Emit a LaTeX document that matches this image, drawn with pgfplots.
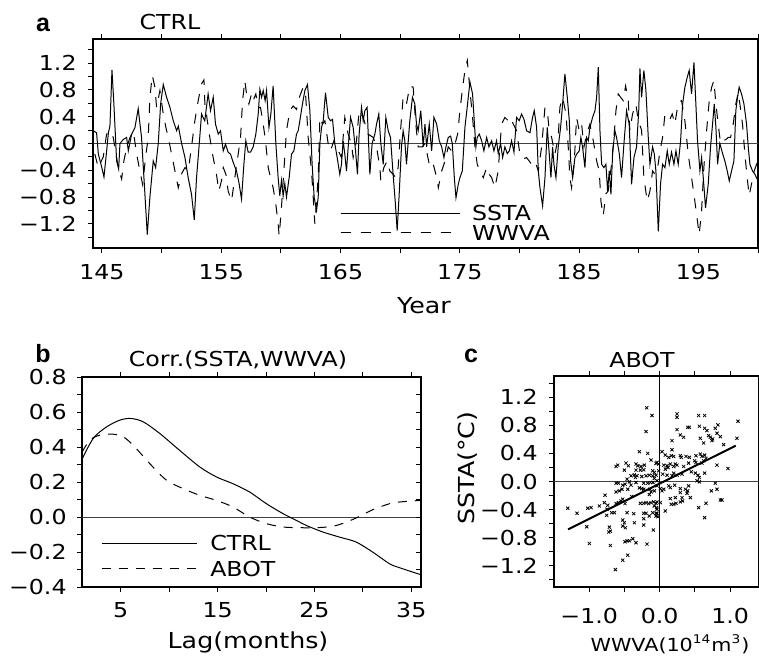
\documentclass[border=0pt]{standalone}
\usepackage{fontspec}
\setmainfont{DejaVu Sans}[FakeStretch=1.15]
\newfontfamily\labfont{Liberation Sans}
\usepackage{pgfplots}
\pgfplotsset{compat=1.18}
\pgfplotsset{
  gstyle/.style={scale only axis, axis line style={black, line width=0.6pt},
    tick style={black, line width=0.5pt}, tick align=outside,
    major tick length=2.5pt, minor tick length=2.5pt,
    /pgf/number format/assume math mode=true,
    tick label style={font=\fontsize{10.3}{12}\selectfont},
    xtick pos=both, ytick pos=left},
  solidl/.style={black, line width=0.5pt},
  dashl/.style={black, line width=0.5pt, dash pattern=on 5pt off 5pt},
}
\begin{document}
\begin{tikzpicture}
\useasboundingbox (0pt,0pt) rectangle (379.5pt,327.5pt);
% ---------------- panel a
\begin{axis}[gstyle, at={(46.5pt,203.5pt)}, anchor=south west, width=332.5pt, height=104.5pt,
  xmin=144.25, xmax=200, ymin=-1.56, ymax=1.56,
  xtick={145,155,165,175,185,195}, minor xtick={150,160,170,180,190,200},
  ytick={-1.2,-0.8,-0.4,0,0.4,0.8,1.2}, yticklabels={−1.2,−0.8,−0.4,0.0,0.4,0.8,1.2},
  minor ytick={-1.4,-1.0,-0.6,-0.2,0.2,0.6,1.0,1.4},
  xticklabel style={inner sep=0pt, anchor=north, yshift=-5.5pt},
  yticklabel style={inner sep=0pt, anchor=east, xshift=-5.5pt}]
\addplot[black!75, line width=0.5pt] coordinates {(144,0) (201,0)};
\addplot[solidl] table {
144.27 0.19
144.55 0.16
144.7 -0.16
144.99 -0.36
145.17 -0.50
145.4 -0.10
145.54 0.16
145.67 0.26
145.84 1.10
146.0 0.59
146.23 -0.26
146.4 -0.38
146.51 0.0
146.79 0.06
147.07 0.09
147.21 -0.11
147.49 0.14
147.77 0.24
148.04 0.52
148.32 0.09
148.55 -0.60
148.8 -1.36
149.02 -0.80
149.3 -0.26
149.5 -0.36
149.72 0.0
149.92 0.59
150.14 0.88
150.42 0.69
150.7 0.54
150.98 0.34
151.26 0.19
151.4 0.26
151.68 0.0
151.96 -0.21
152.23 -0.51
152.51 -0.76
152.74 -1.14
152.93 -0.51
153.16 0.0
153.35 0.44
153.45 0.40
153.62 0.34
153.9 0.74
154.1 0.49
154.33 0.69
154.52 0.29
154.75 0.14
154.94 0.19
155.17 -0.11
155.36 -0.01
155.58 -0.13
155.78 -0.16
156.0 -0.28
156.28 -0.41
156.5 -0.60
156.7 -0.83
156.9 -0.31
157.06 0.04
157.26 -0.13
157.46 -0.13
157.68 -0.05
157.9 0.14
158.1 0.44
158.24 0.81
158.38 0.69
158.52 0.79
158.68 0.64
158.8 0.79
159.0 0.24
159.16 0.44
159.35 0.86
159.58 0.0
159.77 -0.51
159.91 -0.78
160.05 -0.55
160.19 -0.78
160.33 -0.60
160.47 -0.80
160.7 -0.50
160.89 -0.16
161.09 -0.11
161.31 0.14
161.45 0.19
161.59 0.34
161.81 0.59
162.01 0.79
162.23 0.88
162.43 0.49
162.62 -0.31
162.79 -0.80
162.99 -1.0
163.13 -0.80
163.27 0.0
163.41 0.24
163.55 0.34
163.74 0.76
163.97 0.39
164.16 0.34
164.33 0.36
164.52 0.0
164.72 -0.21
164.94 -0.46
165.08 -0.31
165.22 0.04
165.36 -0.16
165.5 -0.41
165.64 -0.06
165.84 0.39
166.06 0.24
166.26 -0.11
166.42 -0.46
166.56 0.14
166.76 0.54
166.9 0.34
167.04 0.49
167.23 0.54
167.46 -0.46
167.65 0.0
167.88 0.14
168.02 0.29
168.21 0.44
168.38 0.0
168.58 -0.31
168.8 0.39
169.0 0.19
169.19 0.09
169.41 -0.46
169.6 -0.9
169.75 -1.30
169.92 -0.75
170.11 -0.05
170.25 0.19
170.39 0.04
170.53 -0.31
170.81 0.34
171.03 0.69
171.23 0.59
171.37 0.29
171.51 0.19
171.73 0.49
171.93 -0.05
172.08 0.29
172.22 -0.05
172.44 0.29
172.64 -0.11
172.83 0.39
173.06 0.29
173.28 0.04
173.48 -0.05
173.67 -0.21
173.84 -0.05
174.03 0.09
174.23 0.11
174.37 0.0
174.54 -0.51
174.68 -0.81
174.87 -0.61
175.01 -0.51
175.21 -0.41
175.43 0.24
175.65 0.59
175.85 0.92
176.07 0.74
176.21 0.34
176.35 -0.05
176.46 0.09
176.63 0.14
176.83 0.04
177.02 -0.11
177.25 0.09
177.44 -0.05
177.67 0.04
177.86 -0.11
178.08 0.04
178.22 -0.15
178.42 0.0
178.59 -0.21
178.78 -0.05
178.98 -0.15
179.15 -0.11
179.34 0.04
179.54 -0.13
179.76 0.39
179.98 0.34
180.18 0.44
180.38 0.36
180.6 0.19
180.88 0.16
181.1 0.39
181.24 0.49
181.44 0.24
181.58 -0.41
181.72 -0.66
181.94 -0.93
182.14 -0.51
182.33 0.24
182.5 -0.16
182.64 -0.51
182.78 -0.05
182.89 -0.31
183.06 -0.51
183.25 -0.05
183.45 0.24
183.62 0.59
183.81 1.04
184.01 0.69
184.18 0.34
184.29 -0.26
184.46 -0.51
184.65 -0.21
184.79 -0.16
185.01 -0.11
185.15 0.09
185.29 -0.05
185.49 -0.36
185.63 0.09
185.77 0.04
185.91 0.24
186.13 0.39
186.33 0.49
186.47 0.69
186.61 1.14
186.75 0.19
186.89 -0.31
187.08 -0.36
187.25 -0.31
187.39 -0.71
187.53 -0.41
187.67 -0.76
187.81 -0.15
188.0 0.19
188.14 0.09
188.37 -0.15
188.56 -0.51
188.76 0.0
188.98 0.49
189.2 0.29
189.4 -0.61
189.6 -0.21
189.82 -0.05
190.0 0.49
190.1 1.12
190.24 0.69
190.43 1.09
190.6 0.80
190.8 0.09
190.94 -0.31
191.16 -0.05
191.3 -0.15
191.44 -0.41
191.64 -1.31
191.83 -0.60
192.0 -0.31
192.2 -0.36
192.39 -0.11
192.56 -0.31
192.75 -0.13
192.95 -0.31
193.12 -0.11
193.31 -0.31
193.51 0.04
193.68 0.59
193.87 0.84
194.07 0.99
194.23 1.09
194.43 0.74
194.63 1.21
194.79 0.59
194.93 0.04
195.13 -0.41
195.27 -0.21
195.41 -0.51
195.6 -0.96
195.83 -0.60
196.02 -0.05
196.19 0.29
196.33 0.59
196.47 0.24
196.61 -0.31
196.8 0.0
197.03 -0.15
197.22 -0.26
197.42 -0.41
197.59 -0.56
197.78 -0.41
197.98 -0.26
198.14 0.49
198.28 0.69
198.42 0.84
198.62 0.74
198.82 0.59
199.04 0.29
199.18 -0.05
199.32 -0.31
199.54 -0.41
199.74 -0.46
200.0 -0.56
};
\addplot[dashl] table {
144.13 0.14
144.41 -0.16
144.69 -0.36
145.11 -0.20
145.39 0.14
145.67 0.19
145.95 0.09
146.37 -0.36
146.65 -0.53
146.84 -0.26
147.07 -0.06
147.35 0.09
147.63 0.19
147.91 -0.16
148.18 -0.41
148.41 -0.61
148.69 -0.16
148.88 0.09
149.02 0.69
149.22 1.02
149.44 0.84
149.58 0.54
149.86 0.79
150.14 0.44
150.36 0.24
150.56 0.09
150.84 -0.16
151.12 -0.41
151.4 -0.66
151.68 -0.45
151.96 -0.36
152.23 -0.41
152.51 -0.05
152.79 0.34
153.07 0.64
153.35 0.89
153.55 0.95
153.63 0.59
154.0 0.14
154.27 -0.16
154.6 -0.46
154.8 -0.71
155.03 -0.55
155.17 -0.36
155.39 -0.46
155.58 -0.71
155.86 -0.86
156.14 -0.51
156.42 -0.16
156.62 0.09
156.79 0.64
156.98 0.94
157.12 0.74
157.32 0.59
157.54 0.74
157.68 0.64
157.9 0.74
158.1 0.54
158.29 0.54
158.52 0.29
158.71 0.04
158.94 -0.36
159.13 -0.51
159.35 -0.66
159.58 -0.91
159.77 -1.2
159.86 -1.38
160.05 -0.95
160.25 -0.41
160.47 0.19
160.75 0.49
161.03 0.56
161.31 0.51
161.59 0.71
161.87 0.84
162.09 0.69
162.29 0.09
162.57 -0.41
162.85 -1.2
163.13 -0.50
163.27 0.39
163.49 0.29
163.69 0.34
163.97 -0.01
164.16 -0.11
164.44 0.04
164.66 -0.05
165.08 -0.21
165.36 0.39
165.64 0.14
165.92 -0.01
166.06 -0.21
166.34 0.04
166.56 0.49
166.9 0.39
167.32 0.14
167.74 0.09
168.02 -0.05
168.3 -0.36
168.38 -0.56
168.63 -0.36
168.91 -0.26
169.13 -0.41
169.41 -0.46
169.64 -0.51
169.83 -0.36
170.03 0.19
170.25 0.69
170.53 0.59
170.81 0.86
171.09 0.84
171.31 0.29
171.51 -0.05
171.87 -0.05
172.08 0.0
172.5 -0.36
172.78 -0.31
173.06 -0.51
173.2 -0.66
173.48 -0.41
173.76 -0.26
174.03 -0.05
174.31 -0.11
174.59 -0.01
174.82 0.14
175.01 0.49
175.24 0.84
175.43 1.09
175.63 1.24
175.85 0.79
176.07 0.39
176.27 -0.05
176.46 -0.31
176.69 -0.41
176.97 -0.51
177.25 -0.36
177.47 -0.46
177.67 -0.51
177.94 -0.66
178.22 -0.41
178.5 0.29
178.78 0.39
179.06 0.34
179.26 0.39
179.48 0.29
179.76 0.19
180.04 -0.16
180.32 -0.23
180.6 -0.21
181.02 -0.31
181.3 -0.26
181.58 -0.41
181.86 -0.05
182.14 0.54
182.33 0.49
182.5 0.19
182.7 0.09
182.97 -0.16
183.25 0.09
183.39 0.54
183.62 0.69
183.9 0.44
184.09 -0.05
184.23 -0.51
184.37 -0.66
184.6 -0.26
184.79 0.39
185.01 0.19
185.21 0.29
185.41 -0.05
185.63 0.14
185.91 0.29
186.19 0.04
186.47 -0.26
186.69 -0.41
186.83 -0.86
187.02 -1.08
187.25 -0.75
187.44 -0.71
187.72 -0.31
187.92 0.09
188.09 0.49
188.28 0.74
188.48 0.69
188.7 0.64
188.9 0.86
189.12 0.64
189.26 0.19
189.48 0.44
189.76 0.59
189.96 0.34
190.24 0.2
190.43 -0.51
190.71 -0.86
190.94 -0.71
191.16 -0.41
191.36 -0.46
191.55 -0.41
191.78 -0.11
192.0 0.09
192.2 0.44
192.39 0.39
192.61 0.36
192.81 0.44
193.03 0.29
193.31 0.61
193.59 0.64
193.87 0.34
194.15 -0.16
194.43 -0.51
194.63 -0.76
194.85 -1.06
195.07 -1.36
195.27 -1.0
195.46 -0.36
195.69 0.19
195.91 0.64
196.11 0.84
196.3 0.94
196.47 0.59
196.66 0.29
196.86 0.0
197.08 0.04
197.31 0.06
197.5 0.09
197.7 0.09
197.92 0.29
198.14 0.59
198.34 0.76
198.48 0.59
198.7 0.29
198.9 -0.16
199.09 -0.51
199.26 -0.78
199.46 -0.6
199.68 -0.41
199.88 -0.31
200.0 -0.26
};
\addplot[solidl] coordinates {(165,-1.04) (175,-1.04)};
\addplot[dashl] coordinates {(165,-1.33) (175,-1.33)};
\node[anchor=west, inner sep=0pt, font=\fontsize{10.3}{12}\selectfont] at (axis cs:176,-1.04) {SSTA};
\node[anchor=west, inner sep=0pt, font=\fontsize{10.3}{12}\selectfont] at (axis cs:176,-1.33) {WWVA};
\end{axis}
\node[font=\labfont\bfseries\fontsize{12.5}{14}\selectfont] at (21.5pt,315pt) {a};
\node[font=\fontsize{10.3}{12}\selectfont] at (85pt,316.5pt) {CTRL};
\node[font=\fontsize{11}{13}\selectfont] at (212pt,174.5pt) {Year};
% ---------------- panel b
\begin{axis}[gstyle, at={(41pt,34pt)}, anchor=south west, width=169.5pt, height=105pt,
  xmin=1, xmax=36, ymin=-0.4, ymax=0.8,
  xtick={5,15,25,35}, minor xtick={10,20,30},
  ytick={-0.4,-0.2,0,0.2,0.4,0.6,0.8}, yticklabels={−0.4,−0.2,0.0,0.2,0.4,0.6,0.8},
  minor ytick={-0.3,-0.1,0.1,0.3,0.5,0.7},
  xticklabel style={inner sep=0pt, anchor=north, yshift=-5pt},
  yticklabel style={inner sep=0pt, anchor=east, xshift=-5pt}]
\addplot[black!75, line width=0.5pt] coordinates {(0,0) (37,0)};
\addplot[solidl, smooth] table {
1 0.33
2.17 0.45
3.54 0.515
4.92 0.554
6.05 0.563
7.32 0.544
9.04 0.477
11.1 0.38
13.16 0.286
14.88 0.229
16.6 0.19
18.3 0.143
20.04 0.076
21.76 0.019
22.8 -0.01
24.16 -0.048
25.88 -0.086
27.6 -0.115
29.3 -0.143
31.0 -0.2
32.75 -0.267
33.8 -0.29
36 -0.33
};
\addplot[black, line width=0.5pt, dash pattern=on 4.5pt off 4pt, smooth] table {
1 0.37
1.82 0.44
2.86 0.468
4.23 0.473
5.26 0.458
6.29 0.41
8.0 0.305
9.73 0.21
11.45 0.162
13.16 0.124
14.88 0.095
16.6 0.057
18.3 0.0
20.04 -0.038
21.76 -0.057
23.5 -0.061
25.2 -0.061
26.9 -0.053
28.3 -0.029
29.66 0.004
31.03 0.042
32.75 0.076
33.8 0.086
36 0.095
};
\addplot[solidl] coordinates {(3.06,-0.149) (12.86,-0.149)};
\addplot[black, line width=0.5pt, dash pattern=on 4.5pt off 4pt] coordinates {(3.06,-0.296) (12.86,-0.296)};
\node[anchor=west, inner sep=0pt, font=\fontsize{10.3}{12}\selectfont] at (axis cs:14.2,-0.149) {CTRL};
\node[anchor=west, inner sep=0pt, font=\fontsize{10.3}{12}\selectfont] at (axis cs:14.2,-0.296) {ABOT};
\end{axis}
% right-side inward ticks of panel b
\begin{axis}[scale only axis, at={(41pt,34pt)}, anchor=south west, width=169.5pt, height=105pt,
  xmin=1, xmax=36, ymin=-0.4, ymax=0.8, axis x line=none, axis y line*=right,
  axis line style={black, line width=0.6pt, -}, tick style={black, line width=0.5pt},
  tick align=inside, major tick length=2.5pt, minor tick length=2.5pt,
  ytick={-0.4,-0.2,0,0.2,0.4,0.6,0.8}, yticklabels={}, minor ytick={-0.3,-0.1,0.1,0.3,0.5,0.7}]
\addplot[draw=none] coordinates {(1,0) (36,0)};
\end{axis}
\node[font=\labfont\bfseries\fontsize{12.5}{14}\selectfont] at (21.5pt,150.5pt) {b};
\node[font=\fontsize{10.3}{12}\selectfont] at (119pt,147.5pt) {Corr.(SSTA,WWVA)};
\node[font=\fontsize{11}{13}\selectfont] at (124pt,6.5pt) {Lag(months)};
% ---------------- panel c
\begin{axis}[gstyle, at={(277pt,34pt)}, anchor=south west, width=102.5pt, height=105.5pt,
  xmin=-1.5, xmax=1.41, ymin=-1.5, ymax=1.5,
  xtick={-1,0,1}, xticklabels={−1.0,0.0,1.0}, minor xtick={-0.5,0.5},
  ytick={-1.2,-0.8,-0.4,0,0.4,0.8,1.2}, yticklabels={−1.2,−0.8,−0.4,0.0,0.4,0.8,1.2},
  minor ytick={-1.4,-1.0,-0.6,-0.2,0.2,0.6,1.0,1.4},
  xticklabel style={inner sep=0pt, anchor=north, yshift=-8pt},
  yticklabel style={inner sep=0pt, anchor=east, xshift=-5.5pt}]
\addplot[black!75, line width=0.5pt] coordinates {(-1.6,0) (1.5,0)};
\addplot[black, line width=0.5pt] coordinates {(0,-1.6) (0,1.6)};
\addplot[only marks, mark=x, mark size=1.1pt, mark options={line width=0.4pt, black}] table {
-0.184 1.048
-0.109 0.938
-0.194 0.71
-0.288 0.424
-0.170 0.40
-0.123 0.305
-0.596 0.233
-0.619 0.214
-0.478 0.262
-0.444 0.224
-0.336 0.248
-0.312 0.224
-0.265 0.214
-0.217 0.233
-0.501 0.162
-0.336 0.162
-0.274 0.162
-0.227 0.167
-0.052 0.257
-0.076 0.129
-0.099 0.152
-0.407 0.081
-0.359 0.095
-0.345 0.057
-0.322 0.081
-0.255 0.071
-0.194 0.081
-0.147 0.09
-0.099 0.081
-0.052 0.09
-0.463 0.033
-0.430 -0.005
-0.492 -0.038
-0.619 -0.024
-0.586 -0.024
-0.525 -0.052
-0.407 -0.052
-0.336 -0.014
-0.227 -0.024
-0.170 -0.024
-0.132 -0.014
-0.076 0.043
-0.095 -0.014
-0.038 0.01
-0.572 -0.133
-0.619 -0.148
-0.534 -0.11
-0.454 -0.11
-0.288 -0.09
-0.255 -0.1
-0.227 -0.11
-0.137 -0.11
-0.123 -0.148
-0.397 -0.214
-0.147 -0.186
-0.076 -0.133
-0.775 -0.195
-0.785 -0.3
-0.738 -0.338
-0.856 -0.348
-0.974 -0.371
-1.021 -0.381
-1.305 -0.381
-1.173 -0.452
-0.747 -0.395
-0.681 -0.443
-0.619 -0.314
-0.586 -0.3
-0.548 -0.276
-0.525 -0.252
-0.492 -0.314
-0.274 -0.31
-0.227 -0.31
-0.194 -0.3
-0.156 -0.314
-0.123 -0.3
-0.085 -0.29
-0.052 -0.31
-0.076 -0.348
-0.043 -0.371
-0.752 -0.481
-0.643 -0.443
-0.463 -0.443
-0.369 -0.457
-0.227 -0.452
-0.194 -0.452
-0.099 -0.443
-0.052 -0.452
-0.147 -0.49
-0.052 -0.49
-0.227 -0.529
-0.525 -0.548
-0.501 -0.586
-0.487 -0.657
-0.525 -0.633
-0.359 -0.586
-0.227 -0.619
-0.714 -0.648
-0.700 -0.705
-0.723 -0.719
-1.035 -0.643
-0.090 -0.69
-0.998 -0.881
-0.700 -0.91
-0.492 -0.857
-0.463 -0.843
-0.430 -0.843
-0.383 -0.814
-0.336 -0.871
-0.180 -0.89
-0.454 -1.048
-0.525 -1.119
-0.629 -1.252
0.246 0.962
0.246 0.914
0.553 0.938
0.638 0.938
1.111 0.857
0.397 0.771
0.421 0.771
0.563 0.786
0.638 0.757
0.671 0.724
0.790 0.757
0.827 0.805
0.246 0.738
0.293 0.662
0.340 0.629
0.695 0.652
0.719 0.629
0.752 0.605
0.742 0.581
0.813 0.686
0.861 0.638
0.577 0.614
0.624 0.548
0.908 0.524
1.097 0.614
0.175 0.581
0.175 0.452
0.033 0.424
0.080 0.376
0.128 0.343
0.165 0.367
0.199 0.357
0.293 0.367
0.307 0.343
0.374 0.357
0.421 0.343
0.515 0.367
0.577 0.39
0.600 0.357
0.638 0.376
0.657 0.329
0.496 0.295
0.515 0.271
-0.038 0.271
-0.014 0.248
0.057 0.233
0.104 0.224
0.151 0.248
0.246 0.233
0.080 0.176
0.118 0.2
0.199 0.214
0.222 0.248
0.340 0.214
0.411 0.262
0.600 0.262
0.624 0.295
0.813 0.233
0.969 0.186
-0.014 0.152
0.043 0.105
0.104 0.09
0.175 0.081
0.199 0.119
0.246 0.09
0.317 0.105
0.449 0.138
0.506 0.119
0.544 0.09
0.563 0.057
0.638 0.119
0.530 0.01
0.563 -0.005
0.790 -0.024
0.813 -0.11
0.733 -0.133
-0.038 -0.062
0.009 -0.1
0.057 -0.11
0.128 -0.062
0.151 -0.086
0.213 -0.052
0.293 -0.1
0.364 -0.11
0.411 -0.062
0.397 -0.133
0.033 -0.133
0.293 -0.157
0.388 -0.167
0.435 -0.229
0.151 -0.243
0.222 -0.229
0.317 -0.229
0.326 -0.276
0.293 -0.29
0.009 -0.3
-0.038 -0.29
0.165 -0.324
0.199 -0.324
0.232 -0.31
0.861 -0.262
0.884 -0.262
0.657 -0.31
0.553 -0.371
0.080 -0.419
-0.038 -0.395
-0.038 -0.452
-0.024 -0.5
0.638 -0.514
};
\addplot[black, line width=1pt] coordinates {(-1.3,-0.68) (1.08,0.51)};
\end{axis}
\node[font=\labfont\bfseries\fontsize{12.5}{14}\selectfont] at (235.5pt,149.5pt) {c};
\node[font=\fontsize{10.3}{12}\selectfont] at (321pt,147.5pt) {ABOT};
\node[font=\fontsize{9}{11}\selectfont] at (335pt,5.5pt) {WWVA(10\textsuperscript{14}m\textsuperscript{3})};
\node[font=\fontsize{11}{13}\selectfont, rotate=90] at (234pt,93.5pt) {SSTA(°C)};
\end{tikzpicture}
\end{document}
